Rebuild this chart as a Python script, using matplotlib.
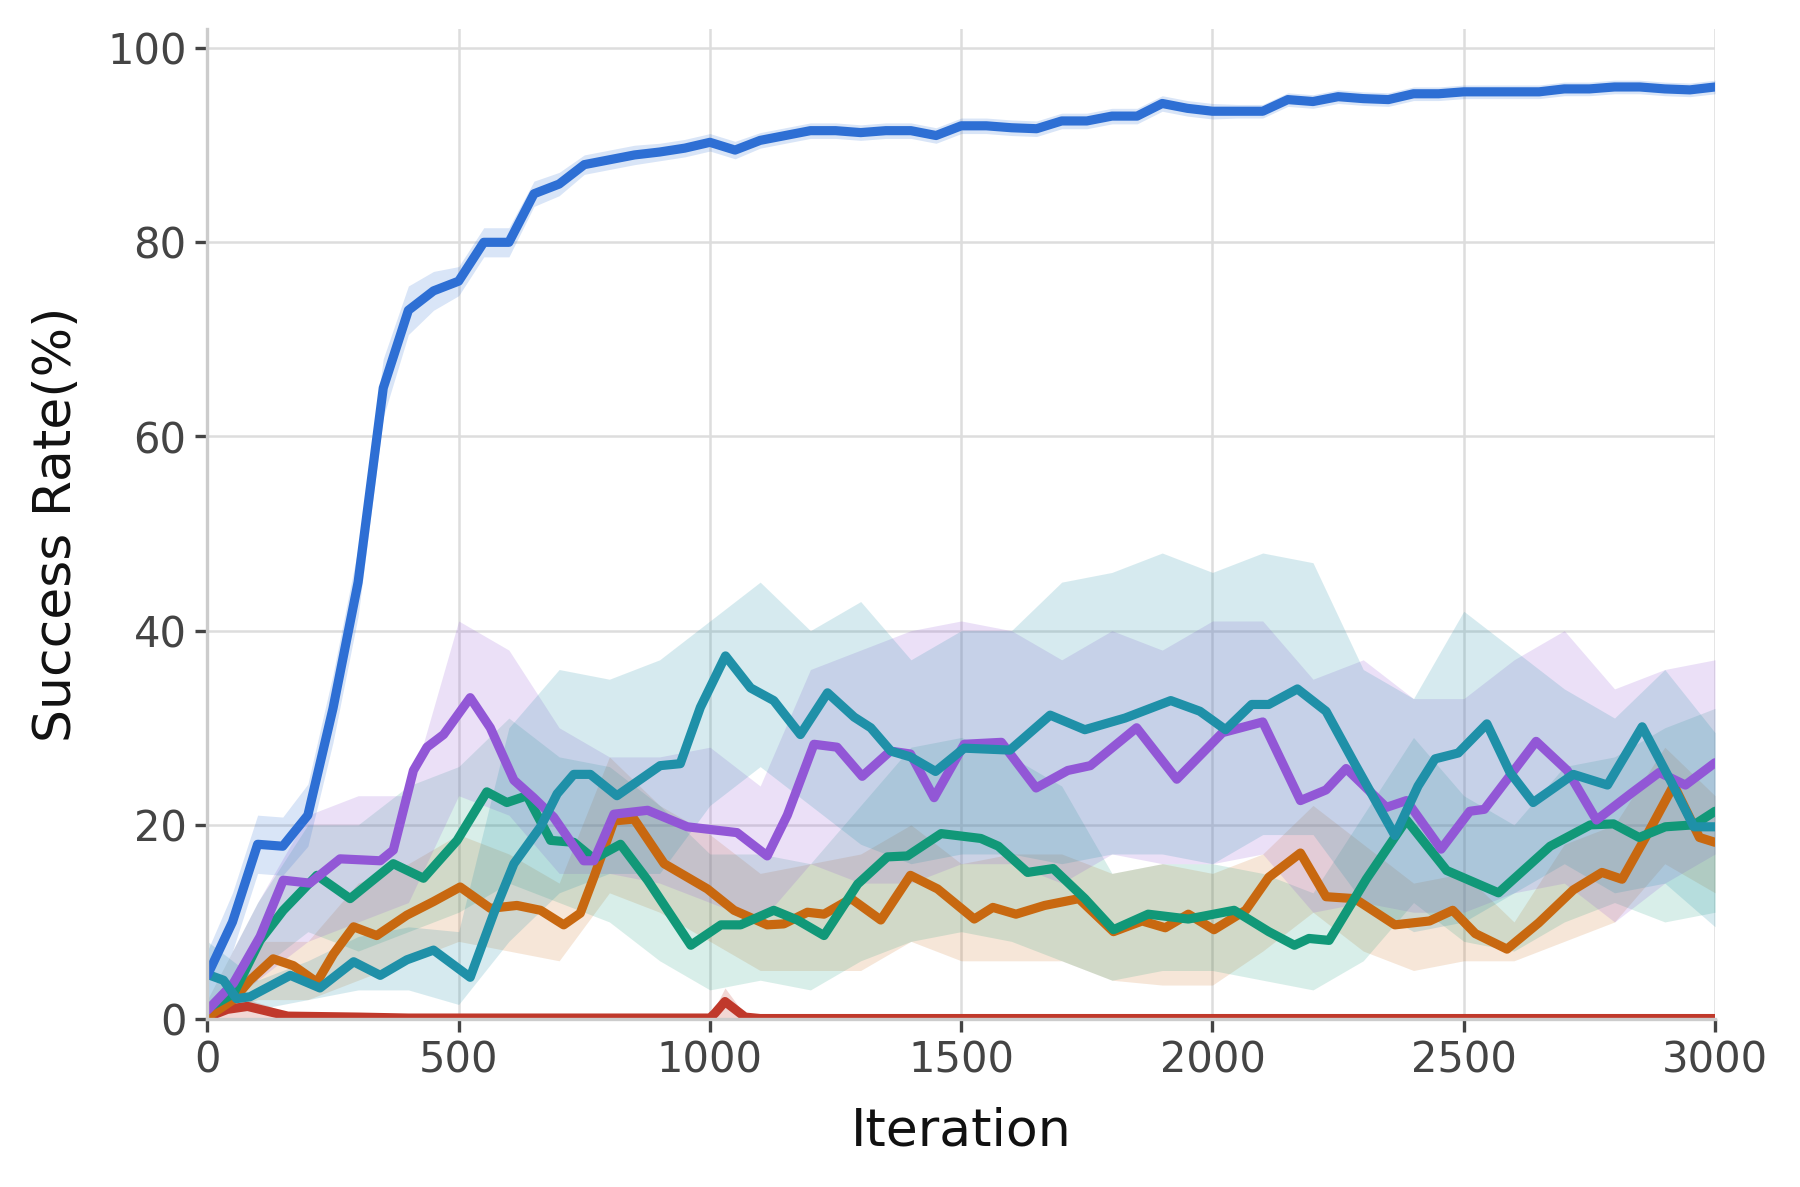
import numpy as np
import matplotlib
matplotlib.use("Agg")
import matplotlib.pyplot as plt

plt.rcParams['font.family'] = ['DejaVu Sans']

# ---- data ----
blue_x = list(range(0, 3001, 50))
blue_y = [4.5, 10, 18, 17.8, 21, 32, 45, 65, 73, 75, 76, 80, 80, 85, 86, 88,
          88.5, 89, 89.3, 89.7, 90.3, 89.5, 90.5, 91, 91.5, 91.5, 91.3, 91.5,
          91.5, 91, 92, 92, 91.8, 91.7, 92.5, 92.5, 93, 93, 94.3, 93.8, 93.5,
          93.5, 93.5, 94.7, 94.5, 95, 94.8, 94.7, 95.3, 95.3, 95.5, 95.5, 95.5,
          95.5, 95.8, 95.8, 96, 96, 95.8, 95.7, 96]
blue_sd = [2.5, 3, 3, 3, 3.2, 3.5, 3.5, 3, 2.5, 2, 1.5, 1.5, 1.5, 1.3, 1.2, 1,
           1, 1, 0.9, 0.9, 0.9, 0.9, 0.8, 0.8, 0.8, 0.8, 0.8, 0.8, 0.8, 0.8,
           0.8, 0.8, 0.8, 0.8, 0.8, 0.8, 0.8, 0.8, 0.8, 0.8, 0.8, 0.7, 0.7,
           0.7, 0.7, 0.7, 0.7, 0.7, 0.7, 0.7, 0.7, 0.7, 0.7, 0.7, 0.7, 0.7,
           0.7, 0.7, 0.7, 0.7, 0.7]

purple_x = [0, 52, 105, 151, 204, 264, 344, 370, 410, 437, 470, 523, 563, 610,
            649, 689, 749, 769, 809, 876, 955, 1054, 1114, 1154, 1207, 1253,
            1303, 1359, 1399, 1446, 1506, 1580, 1649, 1712, 1757, 1849, 1929,
            2020, 2100, 2175, 2226, 2266, 2346, 2386, 2455, 2512, 2541, 2644,
            2706, 2764, 2832, 2889, 2941, 3000]
purple_y = [0.9, 3.7, 8.5, 14.3, 14, 16.5, 16.3, 17.4, 25.6, 28, 29.3, 33.1,
            30, 24.6, 22.8, 20.8, 16.3, 16.3, 21.1, 21.5, 19.8, 19.2, 16.8, 21,
            28.3, 28, 25, 27.6, 27.3, 22.8, 28.3, 28.5, 23.8, 25.6, 26.1, 30,
            24.7, 29.5, 30.6, 22.5, 23.6, 25.8, 21.8, 22.5, 17.5, 21.4, 21.6,
            28.6, 25.6, 20.5, 23.2, 25.4, 24.1, 26.4]

teal_x = [0, 32, 58, 85, 165, 224, 291, 344, 397, 450, 523, 570, 610, 663,
          696, 729, 762, 815, 901, 941, 981, 1031, 1081, 1127, 1180, 1234,
          1287, 1320, 1360, 1399, 1449, 1506, 1597, 1677, 1746, 1826, 1917,
          1975, 2026, 2078, 2112, 2169, 2226, 2283, 2363, 2409, 2443, 2489,
          2546, 2592, 2638, 2718, 2786, 2855, 2912, 2958, 3000]
teal_y = [4.6, 4, 2.1, 2.3, 4.5, 3.2, 5.9, 4.5, 6.1, 7.1, 4.3, 10.9, 16, 19.8,
          23.2, 25.2, 25.2, 23, 26.1, 26.3, 32.1, 37.4, 34.1, 32.8, 29.3, 33.6,
          31.1, 30, 27.6, 27, 25.5, 27.9, 27.7, 31.3, 29.8, 31, 32.8, 31.7,
          29.8, 32.4, 32.4, 34, 31.7, 26.3, 18.9, 24, 26.8, 27.4, 30.4, 25.4,
          22.3, 25.2, 24.1, 30.1, 24.5, 19.8, 19.8]

green_x = [0, 52, 105, 151, 218, 284, 370, 430, 497, 556, 596, 636, 683, 729,
           769, 822, 876, 962, 1022, 1061, 1127, 1174, 1227, 1294, 1353, 1393,
           1460, 1539, 1574, 1632, 1683, 1746, 1803, 1872, 1952, 2043, 2112,
           2163, 2192, 2232, 2306, 2386, 2466, 2569, 2672, 2752, 2798, 2849,
           2901, 2958, 3000]
green_y = [1.1, 2.6, 8.1, 11.2, 14.8, 12.4, 16, 14.5, 18.4, 23.4, 22.3, 23,
           18.4, 18.2, 16.5, 18, 14.3, 7.6, 9.7, 9.7, 11.2, 10.2, 8.6, 13.9,
           16.7, 16.8, 19.1, 18.6, 17.8, 15.1, 15.5, 12.4, 9.2, 10.8, 10.3,
           11.2, 9, 7.6, 8.3, 8.1, 14.4, 20.5, 15.3, 13, 17.8, 20, 20.1, 18.7,
           19.8, 20, 21.4]

orange_x = [0, 52, 85, 131, 171, 218, 251, 291, 337, 397, 450, 503, 563, 616,
            663, 709, 742, 769, 809, 849, 909, 995, 1048, 1114, 1147, 1194,
            1227, 1281, 1340, 1399, 1453, 1526, 1563, 1609, 1666, 1734, 1803,
            1860, 1906, 1952, 2003, 2066, 2112, 2175, 2226, 2283, 2363, 2432,
            2478, 2523, 2586, 2649, 2718, 2775, 2815, 2866, 2918, 2969, 3000]
orange_y = [0.2, 2, 4, 6.2, 5.5, 3.8, 6.7, 9.5, 8.6, 10.7, 12.1, 13.6, 11.4,
            11.7, 11.2, 9.7, 10.9, 14.6, 20.4, 20.6, 16, 13.4, 11.2, 9.7, 9.8,
            11, 10.8, 12.4, 10.2, 14.8, 13.4, 10.3, 11.5, 10.8, 11.7, 12.4, 9,
            10.1, 9.4, 10.8, 9.2, 11.2, 14.6, 17.1, 12.6, 12.4, 9.7, 10.1, 11.2,
            8.8, 7.2, 9.9, 13.3, 15.1, 14.4, 19.1, 24.1, 18.7, 18.2]

red_x = [0, 40, 80, 120, 160, 300, 400, 1000, 1010, 1030, 1050, 1070, 1100, 3000]
red_y = [0.2, 1.0, 1.3, 0.8, 0.3, 0.2, 0.1, 0.1, 0.6, 1.8, 1.0, 0.2, 0.05, 0.05]
red_hi = [0.5, 1.6, 2.0, 1.4, 0.6, 0.4, 0.2, 0.2, 1.2, 3.2, 1.8, 0.4, 0.1, 0.1]

band_x = list(range(0, 3001, 100))
teal_lo = [1, 1, 2, 3, 3, 1.5, 8, 13, 15, 15, 22, 26, 22, 18, 16, 17, 17, 16,
           17, 17, 16, 19, 19, 12, 9, 10, 13, 16, 13, 14, 9.5]
teal_hi = [8, 4, 6, 8.5, 9.5, 9, 30, 36, 35, 37, 41, 45, 40, 43, 37, 40, 40,
           45, 46, 48, 46, 48, 47, 36, 33, 42, 38, 34, 31, 36, 29.5]
purple_lo = [0, 4, 8, 10, 12, 23, 21, 15, 15, 14, 12, 10, 16, 14, 14, 16, 16,
             14, 17, 16, 16, 17, 11, 12, 11, 11, 13, 14, 10, 14, 17]
purple_hi = [2, 12, 21, 23, 23, 41, 38, 30, 27, 27, 28, 24, 36, 38, 40, 41, 40,
             37, 40, 38, 41, 41, 35, 37, 33, 33, 37, 40, 34, 36, 37]
green_lo = [0, 5, 9, 7, 9, 11, 14, 12, 10, 6, 3, 4, 3, 6, 8, 9, 8, 6, 4, 5, 5,
            4, 3, 6, 12, 8, 7, 10, 12, 10, 11]
green_hi = [2, 12, 20, 20, 24, 26, 31, 27, 26, 22, 17, 17, 16, 22, 28, 29, 27,
            24, 15, 16, 16, 15, 13, 21, 29, 23, 20, 26, 27, 30, 32]
orange_lo = [0, 2, 2, 4, 6, 8, 7, 6, 13, 11, 8, 5, 5, 5, 8, 6, 6, 6, 4, 3.5,
             3.5, 7, 11, 7, 5, 6, 6, 8, 10, 16, 13]
orange_hi = [1, 8, 8, 14, 16, 19, 17, 14, 27, 22, 19, 15, 16, 17, 20, 16, 17,
             17, 15, 16, 15, 17, 22, 18, 14, 15, 10, 18, 20, 28, 23]

c_blue = '#2e6fd4'
c_purple = '#9257d6'
c_teal = '#1f90a8'
c_green = '#119878'
c_orange = '#c86810'
c_red = '#c0392b'

fig = plt.figure(figsize=(6, 3.9567), dpi=300)
ax = fig.add_axes([0.1152, 0.1415, 0.9528 - 0.1152, 0.9758 - 0.1415])

lw = 2.2
ax.fill_between(red_x, 0, red_hi, color=c_red, alpha=0.2, lw=0)
ax.fill_between(band_x, orange_lo, orange_hi, color=c_orange, alpha=0.16, lw=0)
ax.fill_between(band_x, green_lo, green_hi, color=c_green, alpha=0.16, lw=0)
ax.fill_between(band_x, purple_lo, purple_hi, color=c_purple, alpha=0.18, lw=0)
ax.fill_between(band_x, teal_lo, teal_hi, color=c_teal, alpha=0.18, lw=0)
b = np.array(blue_y)
s = np.array(blue_sd)
ax.fill_between(blue_x, b - s, b + s, color=c_blue, alpha=0.18, lw=0)

kw = dict(lw=lw, solid_joinstyle='round', solid_capstyle='round')
ax.plot(red_x, red_y, color=c_red, **kw)
ax.plot(orange_x, orange_y, color=c_orange, **kw)
ax.plot(green_x, green_y, color=c_green, **kw)
ax.plot(purple_x, purple_y, color=c_purple, **kw)
ax.plot(teal_x, teal_y, color=c_teal, **kw)
ax.plot(blue_x, blue_y, color=c_blue, **kw)

ax.set_xlim(0, 3000)
ax.set_ylim(0, 102)
ax.set_xticks([0, 500, 1000, 1500, 2000, 2500, 3000])
ax.set_yticks([0, 20, 40, 60, 80, 100])
ax.grid(True, color='#dddddd', lw=0.6)
ax.set_axisbelow(True)
for side in ['top', 'right']:
    ax.spines[side].set_visible(False)
for side in ['left', 'bottom']:
    ax.spines[side].set_color('#cccccc')
    ax.spines[side].set_linewidth(0.8)
ax.tick_params(axis='both', labelsize=10, colors='#444444', length=3, width=0.8,
               pad=2)
ax.set_xlabel('Iteration', fontsize=12.5, color='#111111', labelpad=6)
ax.set_ylabel('Success Rate(%)', fontsize=12.5, color='#111111', labelpad=6)

fig.savefig('out.png', dpi=300)
